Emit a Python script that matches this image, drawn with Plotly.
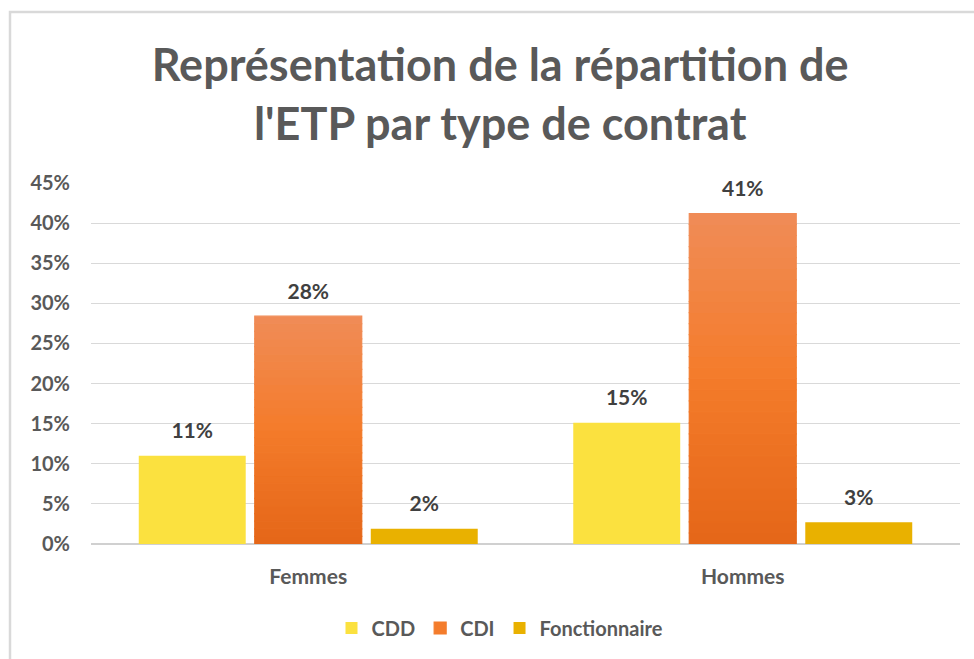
import plotly.graph_objects as go

categories = ["Femmes", "Hommes"]
cdd = [0.110, 0.151]
cdi = [0.284, 0.412]
fonctionnaire = [0.019, 0.027]
series_names = ["CDD", "CDI", "Fonctionnaire"]
title_text = "Représentation de la répartition de<br>l'ETP par type de contrat"

FONT = "Lato"
GREY = "#595959"
LABEL = "#404040"
YELLOW = "#FBE13F"
GOLD = "#E9B100"
# CDI gradient: bottom -> middle -> top
GRAD = [(0.0, (0xE4, 0x66, 0x18)), (0.5, (0xF4, 0x7B, 0x2A)), (1.0, (0xF0, 0x8C, 0x57))]

BARGAP = 0.199
GROUPGAP = 0.078


def grad_color(t):
    for (t0, c0), (t1, c1) in zip(GRAD[:-1], GRAD[1:]):
        if t0 <= t <= t1:
            f = (t - t0) / (t1 - t0)
            c = [round(a + (b - a) * f) for a, b in zip(c0, c1)]
            return "rgb({},{},{})".format(*c)
    return "rgb(240,140,87)"


fig = go.Figure()

fig.add_trace(go.Bar(
    x=categories, y=cdd, name=series_names[0], offsetgroup="cdd",
    marker=dict(color=YELLOW, line=dict(width=0)), hoverinfo="skip",
))

N = 30
for k in range(N):
    t = (k + 0.5) / N
    col = grad_color(t)
    fig.add_trace(go.Bar(
        x=categories,
        y=[v / N for v in cdi],
        base=[v * k / N for v in cdi],
        name=series_names[1],
        offsetgroup="cdi",
        legendgroup="cdi",
        showlegend=(k == N // 2),
        marker=dict(color=col, line=dict(width=1.2, color=col)),
        hoverinfo="skip",
    ))

fig.add_trace(go.Bar(
    x=categories, y=fonctionnaire, name=series_names[2], offsetgroup="fonc",
    marker=dict(color=GOLD, line=dict(width=0)), hoverinfo="skip",
))

# data labels, grouped like the bars
for vals, grp in [(cdd, "cdd"), (cdi, "cdi"), (fonctionnaire, "fonc")]:
    fig.add_trace(go.Scatter(
        x=categories, y=vals, offsetgroup=grp, mode="markers+text",
        text=["{:.0%}".format(v) for v in vals], textposition="top center",
        textfont=dict(family=FONT, size=21, color=LABEL, weight="bold"),
        marker=dict(size=18, opacity=0), showlegend=False, hoverinfo="skip",
        cliponaxis=False,
    ))

fig.update_layout(
    width=974, height=659, autosize=False,
    paper_bgcolor="white", plot_bgcolor="white",
    margin=dict(l=91, r=14, t=183, b=115),
    barmode="group", bargap=BARGAP, bargroupgap=GROUPGAP,
    scattermode="group", scattergap=BARGAP,
    title=dict(
        text=title_text, x=0.5135, xanchor="center", y=1 - 81 / 659, yanchor="middle",
        font=dict(family=FONT, size=45, color=GREY, weight="bold"),
    ),
    font=dict(family=FONT, color=GREY),
    legend=dict(
        orientation="h", xref="container", yref="container",
        x=500 / 974, xanchor="center", y=1 - 628 / 659, yanchor="middle",
        font=dict(family=FONT, size=20, color=GREY, weight="bold"),
        traceorder="normal", itemwidth=30,
    ),
    showlegend=True,
    hovermode=False,
)

fig.update_yaxes(
    range=[0, 0.45], dtick=0.05, tickformat=".0%",
    showgrid=True, gridcolor="#D9D9D9", gridwidth=1,
    zeroline=True, zerolinecolor="#D0D0D0", zerolinewidth=2,
    showline=False, ticks="", ticklabelstandoff=20,
    tickfont=dict(family=FONT, size=20, color=GREY, weight="bold"),
    fixedrange=True,
)
fig.update_xaxes(
    showgrid=False, showline=False, ticks="", ticklabelstandoff=18,
    tickfont=dict(family=FONT, size=21, color=GREY, weight="bold"),
    fixedrange=True,
)

# outer chart frame (decoration)
fig.add_shape(type="rect", xref="paper", yref="paper",
              x0=(10 - 91) / 869, x1=(990 - 91) / 869,
              y0=(544 - 680) / 361, y1=(544 - 12) / 361,
              line=dict(color="#D9D9D9", width=2.5), fillcolor="rgba(0,0,0,0)", layer="below")

# remove the browser's default page margin so the figure sits at (0, 0)
fig.write_html("out.html", config={"displayModeBar": False},
               post_script="document.body.style.margin='0';")
